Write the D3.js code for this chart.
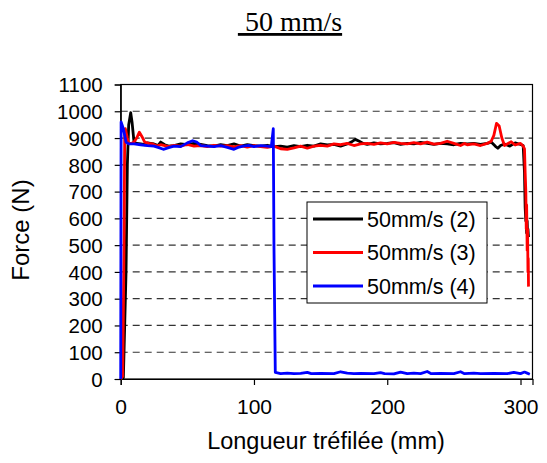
<!DOCTYPE html>
<html><head><meta charset="utf-8">
<script src="https://cdn.jsdelivr.net/npm/d3@7"></script>
<style>body{margin:0;background:#fff}svg{display:block}</style>
</head><body>
<svg id="c" width="547" height="463"></svg>
<script>
const titleText = " 50 mm/s";
const xLabel = "Longueur tréfilée (mm)";
const yLabel = "Force (N)";
const xTicks = [0, 100, 200, 300];
const yTicks = [0,100,200,300,400,500,600,700,800,900,1000,1100];
const seriesNames = ["50mm/s (2)", "50mm/s (3)", "50mm/s (4)"];
const seriesColors = ["#000000", "#ff0000", "#0000ff"];

const s2x = [0,2,4,5,6,7.5,8.5,10,12,15,18,20,25,28,30,33,36,40,45,50,55,60,65,70,75,80,85,90,95,100,105,110,115,120,125,130,135,140,145,150,155,160,165,170,173,176,179,182,185,190,195,200,205,210,215,220,225,230,235,240,245,250,255,260,265,270,275,278,281,283,285,288,292,296,300,302,303,303.5,304,304.3,304.6,305,305.3,305.6,306];
const s2y = [0,5,400,800,950,995,960,885,880,878,875,882,878,872,885,875,870,872,878,875,880,876,872,870,875,872,878,870,875,872,870,873,868,870,866,872,868,873,870,878,874,876,870,878,885,895,888,880,876,882,878,880,883,876,880,878,884,880,876,880,878,875,880,878,880,876,880,885,870,862,872,878,870,882,876,872,770,640,590,610,545,590,540,560,530];

const s3x = [0,1.5,2.5,3,3.5,5,6,8,10,12,14,16,18,21,24,27,30,33,36,40,45,50,55,60,65,70,75,80,85,90,95,100,105,110,115,120,125,130,135,140,145,150,155,160,165,170,175,180,185,190,195,200,205,210,215,220,225,230,235,240,245,250,255,258,260,265,270,275,278,280,282,284,286,288,290,293,296,300,302,303,303.5,304,304.3,304.6,305,305.3,305.6,305.8,306];
const s3y = [0,10,500,920,935,900,880,880,885,900,922,905,885,880,878,870,875,872,868,873,870,876,870,872,868,873,870,872,867,872,866,872,868,865,870,860,858,863,870,862,870,873,870,878,875,880,872,878,880,876,882,878,884,880,878,883,878,885,877,880,888,880,872,880,875,878,872,880,888,910,955,945,900,872,878,886,874,880,870,860,770,700,560,650,480,560,400,450,345];

const s4x = [0,0.3,2,4,6,10,15,20,25,28,32,36,40,45,50,54,57,60,65,70,75,80,85,88,92,96,100,105,110,113,114.5,115,116,120,125,130,135,140,143,150,160,165,170,175,180,190,195,198,205,210,215,220,225,230,233,240,250,255,258,265,270,280,290,295,300,303,305,307];
const s4y = [0,960,935,885,878,878,875,872,870,865,858,864,870,868,882,890,885,872,870,868,872,865,858,865,870,873,868,872,870,868,935,500,25,20,22,20,21,25,20,21,20,27,22,20,21,20,24,20,19,26,20,22,20,28,20,21,20,27,20,22,20,21,20,25,20,26,22,18];

const W = 547, H = 463;
const m = {left: 120.7, right: 532.5, top: 84.5, bottom: 379};
const svg = d3.select("#c");
const x = d3.scaleLinear().domain([0, 309]).range([m.left, m.right]);
const y = d3.scaleLinear().domain([0, 1100]).range([m.bottom, m.top]);
const font = "Liberation Sans, Arial, sans-serif";

// gridlines
svg.append("g").selectAll("line").data(yTicks.filter(d => d > 0 && d < 1100)).join("line")
  .attr("x1", m.left).attr("x2", m.right)
  .attr("y1", d => y(d)).attr("y2", d => y(d))
  .attr("stroke", "#333").attr("stroke-width", 1.2).attr("stroke-dasharray", "7,5");

// plot border
svg.append("rect").attr("x", m.left).attr("y", m.top)
  .attr("width", m.right - m.left).attr("height", m.bottom - m.top)
  .attr("fill", "none").attr("stroke", "#000").attr("stroke-width", 1.2);

// axes
const xa = svg.append("g").attr("transform", `translate(0,${m.bottom})`)
  .call(d3.axisBottom(x).tickValues(xTicks).tickFormat(d3.format("d")).tickSize(6).tickPadding(14));
const ya = svg.append("g").attr("transform", `translate(${m.left},0)`)
  .call(d3.axisLeft(y).tickValues(yTicks).tickFormat(d3.format("d")).tickSize(6).tickPadding(12));
[xa, ya].forEach(a => {
  a.select(".domain").attr("stroke", "#000").attr("stroke-width", 1.2);
  a.selectAll(".tick line").attr("stroke", "#000").attr("stroke-width", 1.2);
  a.selectAll("text").attr("font-family", font).attr("fill", "#000");
});
xa.selectAll("text").attr("font-size", 21);
ya.selectAll("text").attr("font-size", 20.5).attr("dy", "0.35em");

// lines
const data = [[s2x, s2y], [s3x, s3y], [s4x, s4y]];
const line = d3.line().x(d => x(d[0])).y(d => y(d[1]));
data.forEach((s, i) => {
  const pts = s[0].map((v, j) => [v, s[1][j]]);
  svg.append("path").datum(pts).attr("d", line)
    .attr("fill", "none").attr("stroke", seriesColors[i])
    .attr("stroke-width", 2.8).attr("stroke-linejoin", "round");
});

// legend
const lg = svg.append("g");
lg.append("rect").attr("x", 307).attr("y", 202).attr("width", 180).attr("height", 101)
  .attr("fill", "#fff").attr("stroke", "#000").attr("stroke-width", 1);
seriesNames.forEach((n, i) => {
  const ly = 219 + i * 33.5;
  lg.append("line").attr("x1", 313).attr("x2", 363).attr("y1", ly).attr("y2", ly)
    .attr("stroke", seriesColors[i]).attr("stroke-width", 2.8);
  lg.append("text").attr("x", 367).attr("y", ly).attr("dy", "0.35em")
    .attr("font-family", font).attr("font-size", 21.5)
    .text(n);
});

// titles
svg.append("text").attr("x", 290).attr("y", 31).attr("text-anchor", "middle")
  .attr("font-family", "Liberation Serif, Times New Roman, serif").attr("font-size", 28)
  .attr("text-decoration", "underline").style("white-space", "pre")
  .text(titleText);
svg.append("text").attr("x", 326).attr("y", 449).attr("text-anchor", "middle")
  .attr("font-family", font).attr("font-size", 23.5)
  .text(xLabel);
svg.append("text").attr("transform", "translate(29,230) rotate(-90)").attr("text-anchor", "middle")
  .attr("font-family", font).attr("font-size", 24)
  .text(yLabel);
</script>
</body></html>
